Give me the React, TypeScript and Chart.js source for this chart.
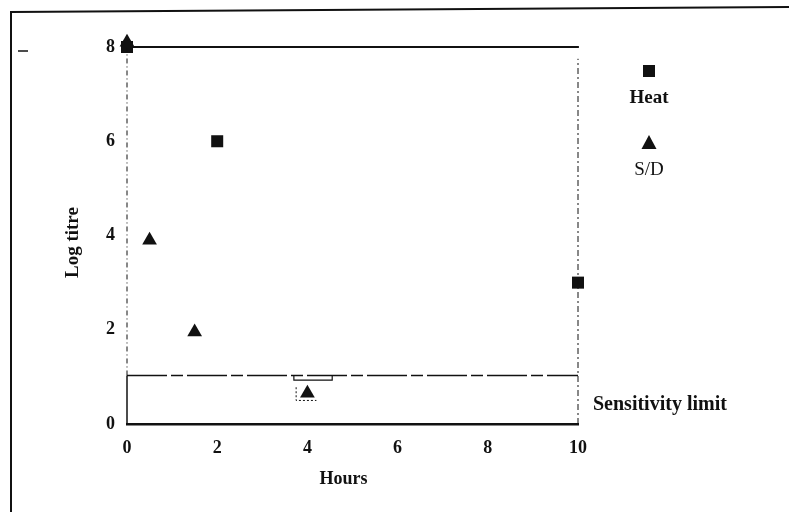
import React, { useEffect, useRef } from "react";
import { Chart, registerables } from "chart.js";

Chart.register(...registerables);

// ---- data ----
const heatHours = [0, 2, 10];
const heatTitre = [8, 6, 3];
const sdHours = [0, 0.5, 1.5, 4];
const sdTitre = [8.1, 3.9, 1.95, 0.65];
const seriesNames = ["Heat", "S/D"];
const xRange = [0, 10];
const yRange = [0, 8];
const tickStep = 2;
const sensitivityLimit = 1.03;
const xTitle = "Hours";
const yTitle = "Log titre";
const limitLabel = "Sensitivity limit";

const INK = "#111";
const FONT = "'Liberation Serif', 'DejaVu Serif', serif";

const decorPlugin = {
  id: "decor",
  afterDraw(chart: any) {
    const { ctx, chartArea, scales } = chart;
    ctx.save();
    ctx.strokeStyle = INK;
    ctx.fillStyle = INK;
    // outer frame (scanned page border)
    ctx.lineWidth = 2;
    ctx.beginPath();
    ctx.moveTo(11, 512);
    ctx.lineTo(11, 12);
    ctx.lineTo(789, 7);
    ctx.stroke();
    ctx.lineWidth = 1.5;
    ctx.beginPath();
    ctx.moveTo(18, 51);
    ctx.lineTo(28, 51);
    ctx.stroke();

    // legend (marker above label)
    const lx = chartArea.right + 71;
    ctx.fillRect(lx - 6, 65, 12, 12);
    ctx.beginPath();
    ctx.moveTo(lx, 135);
    ctx.lineTo(lx + 7.5, 149);
    ctx.lineTo(lx - 7.5, 149);
    ctx.closePath();
    ctx.fill();
    ctx.textAlign = "center";
    ctx.textBaseline = "middle";
    ctx.font = `bold 19px ${FONT}`;
    ctx.fillText(seriesNames[0], lx, 98);
    ctx.font = `19px ${FONT}`;
    ctx.fillText(seriesNames[1], lx, 170);

    // sensitivity limit label
    ctx.font = `bold 20px ${FONT}`;
    ctx.textAlign = "left";
    ctx.fillText(limitLabel, chartArea.right + 15, scales.y.getPixelForValue(0.4));

    // x-axis title
    ctx.font = `bold 18px ${FONT}`;
    ctx.textAlign = "center";
    ctx.fillText(xTitle, scales.x.getPixelForValue(4.8), 479);

    // y-axis title
    ctx.save();
    ctx.translate(73, scales.y.getPixelForValue(3.85));
    ctx.rotate(-Math.PI / 2);
    ctx.font = `bold 19px ${FONT}`;
    ctx.fillText(yTitle, 0, 0);
    ctx.restore();
    ctx.restore();
  },
};

export default function App() {
  const ref = useRef<HTMLCanvasElement | null>(null);

  useEffect(() => {
    if (!ref.current) return;
    const heatPts = heatHours.map((x, i) => ({ x, y: heatTitre[i] }));
    const sdPts = sdHours.map((x, i) => ({ x, y: sdTitre[i] }));
    const lineDs = (data: any[], dash: number[], width: number) => ({
      type: "line" as const,
      data,
      showLine: true,
      borderColor: INK,
      borderWidth: width,
      borderDash: dash,
      pointRadius: 0,
      fill: false,
      clip: false,
    });
    const chart = new Chart(ref.current, {
      type: "scatter",
      data: {
        datasets: [
          // top frame line at max titre
          lineDs([{ x: xRange[0], y: yRange[1] }, { x: xRange[1] + 0.02, y: yRange[1] }], [], 2),
          // right dashed edge
          lineDs([{ x: xRange[1], y: yRange[0] }, { x: xRange[1], y: 7.75 }], [6, 3, 2, 3], 1),
          // left dashed edge
          lineDs([{ x: xRange[0], y: sensitivityLimit }, { x: xRange[0], y: yRange[1] }], [5, 3, 1, 3], 1),
          // sensitivity limit line
          lineDs([{ x: xRange[0], y: sensitivityLimit }, { x: xRange[1], y: sensitivityLimit }], [40, 4, 12, 4], 1.5),
          lineDs([{ x: xRange[0], y: yRange[0] }, { x: xRange[0], y: sensitivityLimit }], [], 1.5),
          // small notch below the limit line
          lineDs(
            [
              { x: 3.7, y: sensitivityLimit },
              { x: 3.7, y: 0.93 },
              { x: 4.55, y: 0.93 },
              { x: 4.55, y: sensitivityLimit },
            ],
            [],
            1.2
          ),
          // dotted box round the 4 h point
          lineDs(
            [
              { x: 3.75, y: 0.78 },
              { x: 3.75, y: 0.5 },
              { x: 4.2, y: 0.5 },
            ],
            [2, 2],
            1
          ),
          {
            label: seriesNames[0],
            data: heatPts,
            pointStyle: "rect",
            pointRadius: 8.5,
            pointHoverRadius: 8.5,
            backgroundColor: INK,
            borderColor: INK,
            borderWidth: 0,
            clip: false,
          },
          {
            label: seriesNames[1],
            data: sdPts,
            pointStyle: "triangle",
            pointRadius: 8.5,
            pointHoverRadius: 8.5,
            backgroundColor: INK,
            borderColor: INK,
            borderWidth: 0,
            clip: false,
          },
        ],
      },
      options: {
        responsive: false,
        animation: false,
        events: [],
        layout: { padding: { left: 20, right: 211, top: 47, bottom: 0 } },
        plugins: {
          legend: { display: false },
          tooltip: { enabled: false },
        },
        scales: {
          x: {
            type: "linear",
            min: xRange[0],
            max: xRange[1],
            grid: { display: false, drawTicks: false },
            border: { display: true, color: INK, width: 2.5 },
            ticks: {
              stepSize: tickStep,
              color: INK,
              padding: 14,
              font: { family: FONT, size: 18, weight: "bold" },
            },
            title: { display: false },
            afterFit(scale: any) {
              scale.height = 88;
            },
          },
          y: {
            type: "linear",
            min: yRange[0],
            max: yRange[1],
            grid: { display: false, drawTicks: false },
            border: { display: false },
            ticks: {
              stepSize: tickStep,
              color: INK,
              padding: 12,
              font: { family: FONT, size: 18, weight: "bold" },
            },
            title: { display: false },
            afterFit(scale: any) {
              scale.width = 107;
            },
          },
        },
      },
      plugins: [decorPlugin],
    } as any);
    return () => chart.destroy();
  }, []);

  return (
    <div style={{ position: "absolute", left: 0, top: 0, width: 789, height: 512, background: "#fff" }}>
      <canvas ref={ref} width={789} height={512} style={{ display: "block" }} />
    </div>
  );
}
